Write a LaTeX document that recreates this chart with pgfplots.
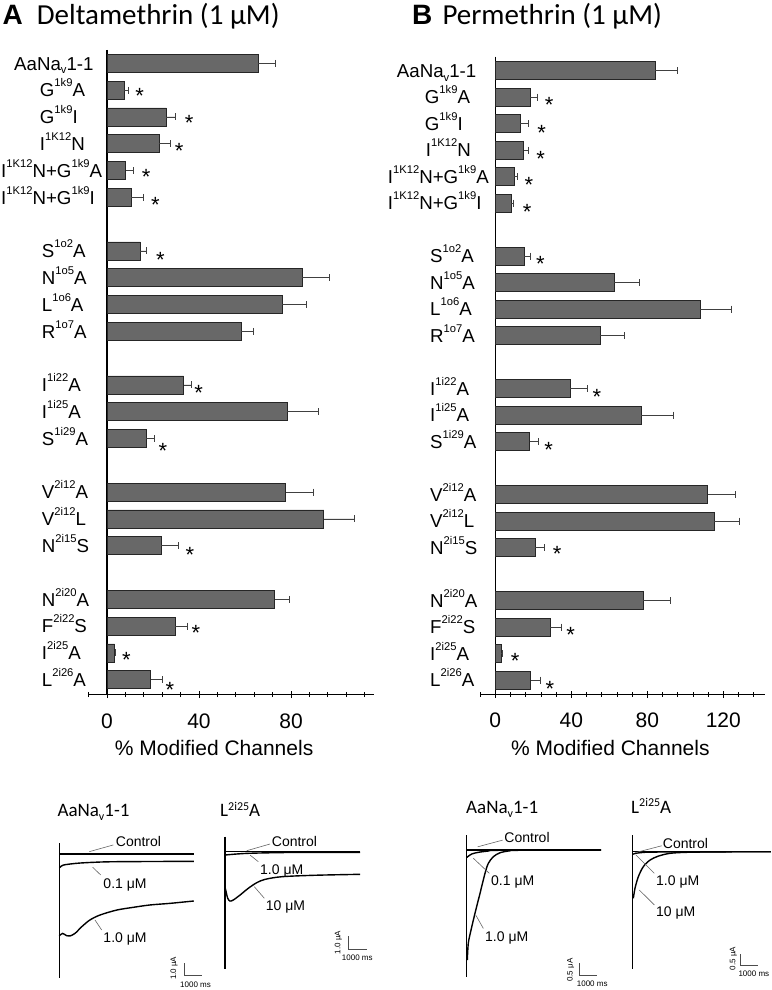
\documentclass[border=0pt]{standalone}
\usepackage{fontspec}
\setmainfont{Liberation Sans}
\newfontfamily\calibri{Carlito}
\usepackage{pgfplots}
\usepackage{pgfplotstable}
\pgfplotsset{compat=1.18}

\newcommand\fs[1]{\fontsize{#1}{#1}\selectfont}
\newcommand\rs[3]{\raisebox{#1}{\fs{#2}#3}}
\newcommand\Su[1]{\rs{10pt}{11.2}{#1}}
\newcommand\Sb[1]{\rs{-3.7pt}{11.2}{#1}}

\definecolor{barc}{RGB}{104,104,104}

% % modified channels: row position, mean, error
\pgfplotstableread{
p v e
0 65.8 7.5
-1 7.5 1.8
-2 25.8 4.1
-3 22.8 4.9
-4 8.1 3.2
-5 10.6 5.1
-7 14.5 2.6
-8 84.8 12.0
-9 76.2 10.7
-10 58.4 5.2
-12 33.3 3.5
-13 78.4 13.5
-14 17.0 3.6
-16 77.7 12.0
-17 94.3 13.2
-18 23.6 7.6
-20 72.9 6.5
-21 29.6 5.5
-22 3.3 0.4
-23 19.0 5.0
}\deltaA

\pgfplotstableread{
p v e
0 84.2 11.6
-1 18.4 3.7
-2 13.2 4.2
-3 14.9 2.5
-4 10.0 1.6
-5 8.3 1.4
-7 15.3 3.3
-8 62.6 13.0
-9 107.7 16.7
-10 55.1 12.8
-12 39.5 8.8
-13 76.8 16.9
-14 18.1 4.5
-16 111.8 14.7
-17 115.1 13.3
-18 20.9 5.1
-20 77.9 14.4
-21 28.9 5.7
-22 3.2 0.5
-23 18.6 5.1
}\permB

\pgfplotsset{
  barax/.style={
    scale only axis, clip=false, anchor=south west,
    bar width=18pt,
    axis x line*=bottom, axis y line*=left,
    y axis line style={draw=none},
    x axis line style={line width=0.9pt},
    ytick style={draw=none},
    xtick style={line width=0.8pt, black},
    tick align=center, major tick length=7pt, minor tick length=5pt,
    xticklabel style={font=\fs{21}, anchor=base, yshift=-30.4pt, inner sep=0pt},
    yticklabel style={font=\fs{18.7}, anchor=base west, inner sep=0pt, yshift=-6.7pt},
    /pgf/number format/assume math mode=true,
    xlabel={\% Modified Channels},
    xlabel style={font=\fs{21}, anchor=center, yshift=-53.6pt},
    ytick={0,-1,-2,-3,-4,-5,-7,-8,-9,-10,-12,-13,-14,-16,-17,-18,-20,-21,-22,-23},
  },
  bars/.style={xbar, fill=barc, draw=black!85, line width=0.8pt,
    error bars/.cd, x dir=plus, x explicit,
    error bar style={black!75, line width=0.8pt},
    error mark options={black!75, line width=0.8pt, mark size=3.5pt, rotate=90}},
  stars/.style={only marks, mark=text, text mark={*}, text mark as node=true,
    text mark style={font=\fs{22}, anchor=base, yshift=-12.5pt, inner sep=0pt}},
  trax/.style={scale only axis, hide axis, clip=false, anchor=south west},
  tr/.style={black, line width=1.4pt},
  ld/.style={black!60, line width=0.6pt},
  sb/.style={black!70, line width=0.7pt},
}
\tikzset{
  lab/.style={anchor=base west, font=\fs{14}, inner sep=0pt, yshift=-5pt},
  sbv/.style={rotate=90, font=\fs{8}, inner sep=0pt},
  sbh/.style={anchor=base west, font=\fs{8}, inner sep=0pt, yshift=-2.9pt},
  tt/.style={anchor=base west, font=\calibri\fs{19}, inner sep=0pt},
}

\begin{document}
\begin{tikzpicture}[x=1pt,y=1pt]
\useasboundingbox (0,0) rectangle (771,-990);

% panel titles
\node[anchor=base west, inner sep=0pt, font=\fs{28}\bfseries] at (2.5,-25) {A};
\node[anchor=base west, inner sep=0pt, font=\calibri\fs{29}] at (36.7,-24.8) {Deltamethrin (1 μM)};
\node[anchor=base west, inner sep=0pt, font=\fs{28}\bfseries] at (412,-25) {B};
\node[anchor=base west, inner sep=0pt, font=\calibri\fs{29}] at (442.3,-24.8) {Permethrin (1 μM)};

% ---------- A: deltamethrin bars ----------
\begin{axis}[barax, at={(88.6pt,-694.7pt)}, width=285.2pt, height=644.8pt,
  xmin=-8, xmax=116, ymin=-23.56, ymax=0.5,
  xtick={0,40,80}, minor xtick={-8,8,16,24,32,48,56,64,72,88,96,104,112},
  xlabel style={at={(axis description cs:0.44,0)}},
  yticklabel style={xshift=-43.4pt},
  yticklabels={
    \hspace*{-27.7pt}AaNa\Sb{v}1-1,
    \hspace*{-2pt}G\Su{1k9}A,
    \hspace*{-2pt}G\Su{1k9}I,
    \hspace*{-2pt}I\Su{1K12}N,
    \hspace*{-40.7pt}I\Su{1K12}N+G\Su{1k9}A,
    \hspace*{-40.7pt}I\Su{1K12}N+G\Su{1k9}I,
    S\Su{1o2}A, N\Su{1o5}A, L\Su{1o6}A, R\Su{1o7}A,
    I\Su{1i22}A, I\Su{1i25}A, S\Su{1i29}A,
    V\Su{2i12}A, V\Su{2i12}L, N\Su{2i15}S,
    N\Su{2i20}A, F\Su{2i22}S, I\Su{2i25}A, L\Su{2i26}A}]
\addplot[black, line width=1.1pt] coordinates {(0,0.5) (0,-23.56)};
\addplot[bars] table[x=v, y=p, x error=e] {\deltaA};
\addplot[stars] coordinates {
  (14.2,-1.02) (35.7,-2.05) (31.4,-3.07) (17.0,-4.07) (21.0,-5.10)
  (23.2,-7.15) (39.9,-12.12) (24.3,-14.27) (36.0,-18.16)
  (38.6,-21.06) (8.4,-22.08) (27.4,-23.2)};
\end{axis}

% ---------- B: permethrin bars ----------
\begin{axis}[barax, at={(480.1pt,-694pt)}, width=285pt, height=637.3pt,
  xmin=-8, xmax=142, ymin=-23.52, ymax=0.528,
  xtick={0,40,80,120}, minor xtick={-8,8,16,24,32,48,56,64,72,88,96,104,112,128,136},
  xlabel style={at={(axis description cs:0.457,0)}},
  yticklabel style={xshift=-46.6pt},
  yticklabels={
    \hspace*{-33.3pt}AaNa\Sb{v}1-1,
    \hspace*{-5.3pt}G\Su{1k9}A,
    \hspace*{-5.3pt}G\Su{1k9}I,
    \hspace*{-4.3pt}I\Su{1K12}N,
    \hspace*{-42.3pt}I\Su{1K12}N+G\Su{1k9}A,
    \hspace*{-42.3pt}I\Su{1K12}N+G\Su{1k9}I,
    S\Su{1o2}A, N\Su{1o5}A, L\Su{1o6}A, R\Su{1o7}A,
    I\Su{1i22}A, I\Su{1i25}A, S\Su{1i29}A,
    V\Su{2i12}A, V\Su{2i12}L, N\Su{2i15}S,
    N\Su{2i20}A, F\Su{2i22}S, I\Su{2i25}A, L\Su{2i26}A}]
\addplot[black, line width=1.1pt] coordinates {(0,0.528) (0,-23.52)};
\addplot[bars] table[x=v, y=p, x error=e] {\permB};
\addplot[stars] coordinates {
  (28.4,-1.11) (24.4,-2.15) (23.9,-3.14) (17.7,-4.12) (16.8,-5.14)
  (23.7,-7.11) (53.5,-12.14) (28.1,-14.14) (32.6,-18.05)
  (39.7,-21.12) (10.4,-22.08) (28.8,-23.14)};
\end{axis}

% ---------- trace titles ----------
\node[tt] at (57.3,-816.7) {AaNa\rs{-4pt}{12}{v}1-1};
\node[tt] at (220,-816.7) {L\rs{6.6pt}{12}{2i25}A};
\node[tt] at (466,-813.3) {AaNa\rs{-4pt}{12}{v}1-1};
\node[tt] at (631,-813.3) {L\rs{6.6pt}{12}{2i25}A};

% ---------- A traces: AaNav1-1 (time ms, current uA) ----------
\begin{axis}[trax, at={(59.3pt,-978pt)}, width=134.5pt, height=136.4pt,
  xmin=0, xmax=7600, ymin=-10, ymax=1]
\addplot[tr] coordinates {(0,0.86) (0,-9.96)};
\addplot[tr] coordinates {(0,0) (7600,0)};
\addplot[tr, smooth] coordinates {(0,-1.1) (40,-1.07) (230,-0.89) (980,-0.75)
  (1920,-0.67) (3240,-0.62) (7600,-0.59)};
\addplot[tr, smooth] coordinates {(0,-6.6) (40,-6.53) (190,-6.40) (420,-6.59)
  (600,-6.61) (890,-6.40) (1270,-5.86) (1730,-5.32) (2300,-4.92) (3240,-4.52)
  (4180,-4.30) (5120,-4.11) (6250,-3.98) (7600,-3.79)};
\addplot[ld] coordinates {(3051,0.73) (1695,0.19)};
\addplot[ld] coordinates {(2339,-1.69) (1887,-1.07)};
\addplot[ld] coordinates {(2396,-6.13) (2017,-5.32)};
\node[lab] at (axis cs:3187,0.99) {Control};
\node[lab] at (axis cs:2486,-2.36) {0.1 μM};
\node[lab] at (axis cs:2486,-6.72) {1.0 μM};
\addplot[sb] coordinates {(7046,-8.81) (7046,-9.81) (8046,-9.81)};
\node[sbv] at (axis cs:6481,-9.22) {1.0 μA};
\node[sbh] at (axis cs:6820,-10.56) {1000 ms};
\end{axis}

% ---------- A traces: L2i25A ----------
\begin{axis}[trax, at={(225pt,-971.4pt)}, width=136.2pt, height=139.65pt,
  xmin=0, xmax=7400, ymin=-9, ymax=1.5]
\addplot[tr] coordinates {(0,1.13) (0,-8.84)};
\addplot[tr] coordinates {(0,0) (7340,0)};
\addplot[tr, smooth] coordinates {(0,-0.25) (1266,-0.12) (3984,-0.05) (7340,-0.05)};
\addplot[tr, smooth] coordinates {(0,-2.7) (38,-2.88) (147,-3.50) (272,-3.71)
  (451,-3.63) (815,-3.26) (1266,-2.75) (1723,-2.33) (2174,-2.08) (3082,-1.88)
  (4892,-1.77) (7340,-1.70)};
\addplot[ld] coordinates {(2446,0.58) (1179,0.075)};
\addplot[ld] coordinates {(1810,-0.75) (1359,-0.25)};
\addplot[ld] coordinates {(2136,-3.50) (1592,-2.63)};
\node[lab] at (axis cs:2538,0.75) {Control};
\node[lab] at (axis cs:1902,-1.32) {1.0 μM};
\node[lab] at (axis cs:2212,-4.08) {10 μM};
\addplot[sb] coordinates {(6701,-6.34) (6701,-7.34) (7701,-7.34)};
\node[sbv] at (axis cs:6158,-6.84) {1.0 μA};
\node[sbh] at (axis cs:6343,-7.94) {1000 ms};
\end{axis}

% ---------- B traces: AaNav1-1 ----------
\begin{axis}[trax, at={(466.7pt,-978.96pt)}, width=134.5pt, height=146.3pt,
  xmin=0, xmax=7600, ymin=-5.2, ymax=0.7]
\addplot[tr] coordinates {(0,0.60) (0,-5.11)};
\addplot[tr] coordinates {(0,0) (7600,0)};
\addplot[tr, smooth] coordinates {(0,-0.3) (56,-0.27) (283,-0.16) (655,-0.093)
  (1220,-0.04) (1880,-0.01) (7600,0)};
\addplot[tr, smooth] coordinates {(34,-4.44) (90,-3.76) (243,-3.23) (469,-2.55)
  (751,-1.75) (1034,-0.94) (1220,-0.54) (1503,-0.27) (1881,-0.11) (2446,-0.03)
  (3011,-0.01) (7600,0)};
\addplot[ld] coordinates {(2034,0.40) (622,0.13)};
\addplot[ld] coordinates {(1277,-0.94) (373,-0.33)};
\addplot[ld] coordinates {(938,-3.16) (509,-2.62)};
\node[lab] at (axis cs:2124,0.51) {Control};
\node[lab] at (axis cs:1373,-1.24) {0.1 μM};
\node[lab] at (axis cs:1034,-3.50) {1.0 μM};
\addplot[sb] coordinates {(6345,-4.57) (6345,-5.07) (7345,-5.07)};
\node[sbv] at (axis cs:5876,-4.84) {0.5 μA};
\node[sbh] at (axis cs:6215,-5.40) {1000 ms};
\end{axis}

% ---------- B traces: L2i25A ----------
\begin{axis}[trax, at={(632.7pt,-974.9pt)}, width=133.6pt, height=140.8pt,
  xmin=0, xmax=7300, ymin=-5.6, ymax=0.8]
\addplot[tr] coordinates {(0,0.76) (0,-5.35)};
\addplot[tr] coordinates {(0,0) (7550,0)};
\addplot[tr, smooth] coordinates {(0,-0.12) (33,-0.105) (399,-0.045) (1492,-0.014) (7550,0)};
\addplot[tr, smooth] coordinates {(33,-2.12) (126,-1.66) (306,-1.14) (579,-0.68)
  (945,-0.38) (1399,-0.20) (2038,-0.073) (2951,-0.027) (4770,-0.005) (7550,0)};
\addplot[ld] coordinates {(1585,0.27) (126,-0.045)};
\addplot[ld] coordinates {(1180,-0.98) (180,-0.15)};
\addplot[ld] coordinates {(1180,-2.42) (361,-1.74)};
\node[lab] at (axis cs:1639,0.38) {Control};
\node[lab] at (axis cs:1273,-1.32) {1.0 μM};
\node[lab] at (axis cs:1273,-2.73) {10 μM};
\addplot[sb] coordinates {(5863,-4.65) (5863,-5.15) (6863,-5.15)};
\node[sbv] at (axis cs:5497,-4.85) {0.5 μA};
\node[sbh] at (axis cs:5770,-5.56) {1000 ms};
\end{axis}
\end{tikzpicture}
\end{document}
